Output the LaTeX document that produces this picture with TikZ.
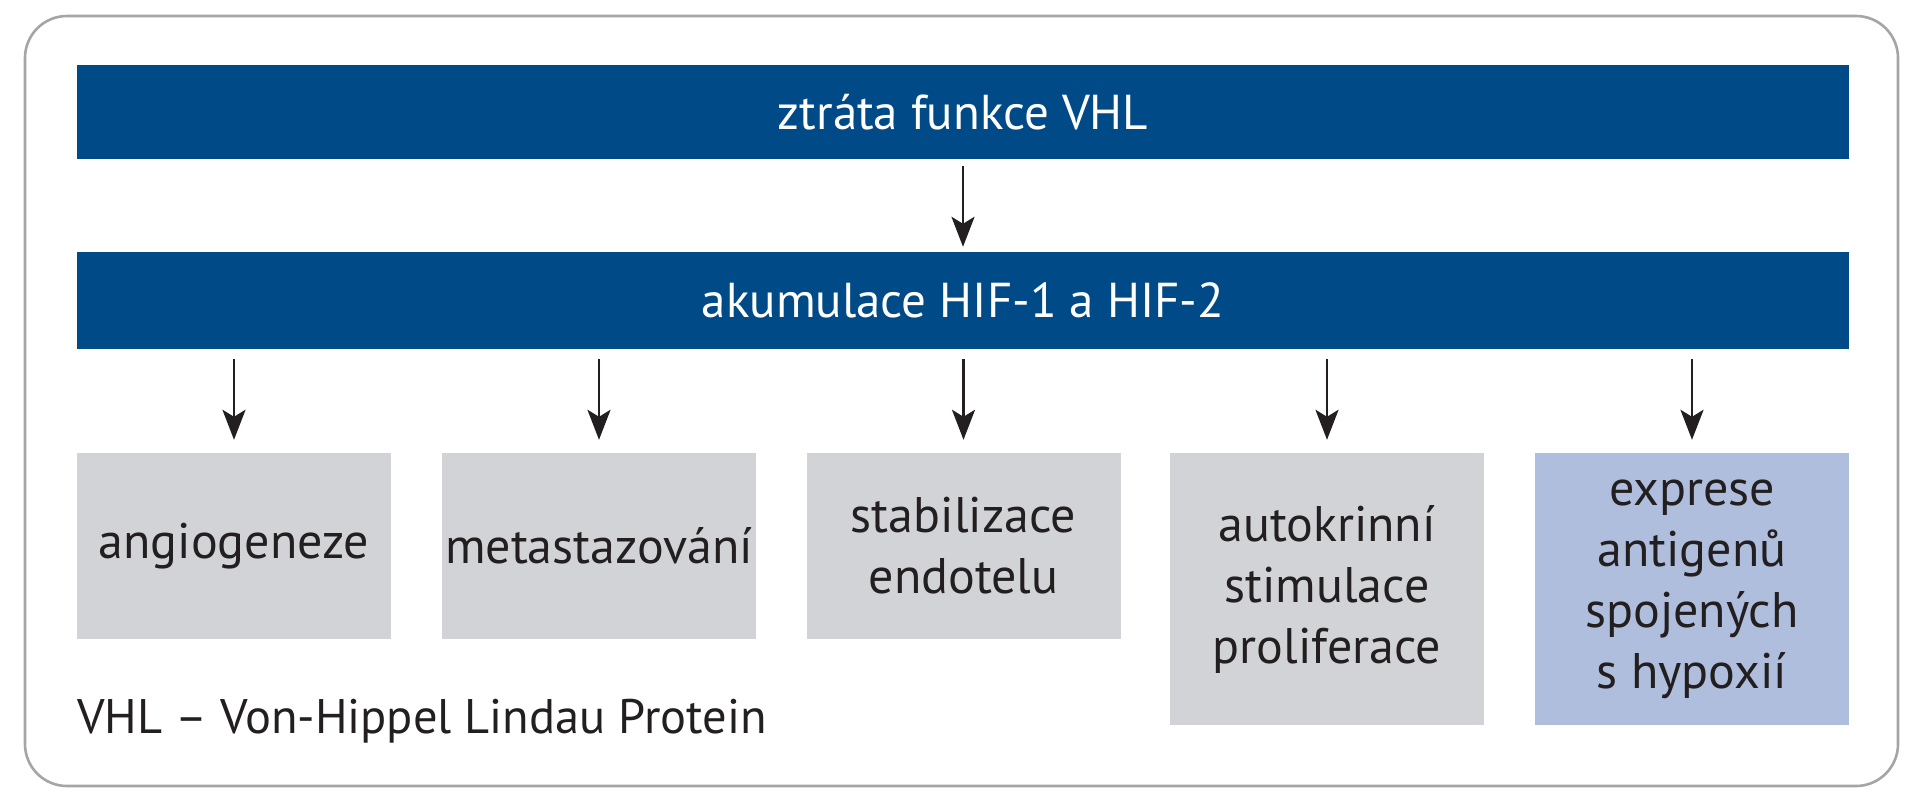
\documentclass[tikz,border=0pt]{standalone}
\usepackage{fontspec}
\setmainfont{PT Sans}
\usetikzlibrary{arrows.meta}
\definecolor{barblue}{RGB}{0,75,135}
\definecolor{boxgray}{RGB}{209,211,214}
\definecolor{boxblue}{RGB}{174,190,220}
\definecolor{framegray}{RGB}{165,165,165}
\definecolor{txt}{RGB}{35,31,32}
\tikzset{
  bar/.style={fill=barblue, text=white, minimum width=1772pt, inner sep=0pt,
    font=\fontsize{49}{60}\selectfont},
  effbox/.style={fill=boxgray, text=txt, minimum width=314pt, inner sep=0pt,
    align=center, font=\fontsize{50}{61}\selectfont},
  arr/.style={line width=2.8pt, draw=txt,
    -{Stealth[length=30pt,width=23pt,inset=7pt]}},
}
\begin{document}
\begin{tikzpicture}[x=1pt,y=-1pt]
\useasboundingbox (0,0) rectangle (1911,800);
\fill[white] (0,0) rectangle (1911,800);
\draw[framegray, line width=2.6pt, rounded corners=42pt] (25,16) rectangle (1898,786);
\node[bar, minimum height=94pt] (b1) at (963,112) {ztráta funkce VHL};
\node[bar, minimum height=97pt] (b2) at (963,300.5) {akumulace HIF-1 a HIF-2};
\node[effbox, minimum height=186pt] (e1) at (234,546) {angiogeneze};
\node[effbox, minimum height=186pt] (e2) at (599,546) {metastazování};
\node[effbox, minimum height=186pt] (e3) at (963.5,546) {stabilizace\\endotelu};
\node[effbox, minimum height=272pt] (e4) at (1327,589) {autokrinní\\stimulace\\proliferace};
\node[effbox, fill=boxblue, minimum height=272pt] (e5) at (1692,589) {exprese\\antigenů\\spojených\\s hypoxií};
\node[anchor=base west, inner sep=0pt, text=txt, font=\fontsize{48.5}{60}\selectfont] (note) at (77,733) {VHL – Von-Hippel Lindau Protein};
\draw[arr, shorten <=7pt, shorten >=5pt] (b1.south) -- (b2.north);
\foreach \i in {1,...,5}{
  \draw[arr, shorten <=10pt, shorten >=13pt] (b2.south -| e\i.north) -- (e\i.north);
}
\end{tikzpicture}
\end{document}
